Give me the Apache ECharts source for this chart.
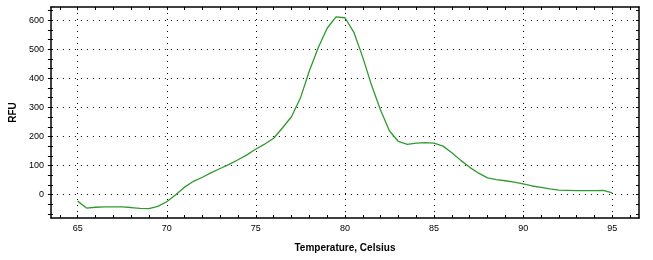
<!DOCTYPE html>
<html>
<head>
<meta charset="utf-8">
<script src="https://cdn.jsdelivr.net/npm/echarts@6/dist/echarts.min.js"></script>
<style>
html,body{margin:0;padding:0;background:#fff;}
#chart{width:653px;height:260px;}
</style>
</head>
<body>
<div id="chart"></div>
<script>
// Melt curve data (temperature in Celsius, RFU)
var temperatures = [65, 65.5, 66, 66.5, 67, 67.5, 68, 68.5, 69, 69.5, 70, 70.5, 71, 71.5, 72, 72.5, 73, 73.5, 74, 74.5, 75, 75.5, 76, 76.5, 77, 77.5, 78, 78.5, 79, 79.5, 80, 80.5, 81, 81.5, 82, 82.5, 83, 83.5, 84, 84.5, 85, 85.5, 86, 86.5, 87, 87.5, 88, 88.5, 89, 89.5, 90, 90.5, 91, 91.5, 92, 92.5, 93, 93.5, 94, 94.5, 95];
var rfu = [-22, -46, -43, -42, -42, -42, -44, -47, -48, -40, -24, 0, 26, 46, 60, 76, 90, 104, 120, 137, 157, 174, 194, 230, 268, 332, 425, 505, 572, 611, 608, 558, 472, 375, 290, 219, 183, 173, 177, 179, 177, 167, 144, 118, 94, 74, 58, 52, 48, 43, 37, 30, 25, 20, 16, 15, 14, 14, 14, 15, 6];

var xTickLabels = [65, 70, 75, 80, 85, 90, 95];
var yTickLabels = [0, 100, 200, 300, 400, 500, 600];
var xName = 'Temperature, Celsius';
var yName = 'RFU';

var X_MIN = 63.5, X_MAX = 96.5, Y_MIN = -80, Y_MAX = 645;

var xMinor = [];
for (var i = 64; i <= 96; i++) xMinor.push(i);
var yMinor = [];
for (var k = -2; k <= 19; k++) yMinor.push(Math.round(k * 100 / 3 * 1000) / 1000);

var data = temperatures.map(function (t, i) { return [t, rfu[i]]; });

var FONT = '"Liberation Sans", Arial, sans-serif';
var lineStyleAxis = { color: '#000', width: 1.5 };

function baseX(extra) {
  return Object.assign({
    type: 'value', min: X_MIN, max: X_MAX,
    axisLine: { show: false, onZero: false, lineStyle: lineStyleAxis },
    axisTick: { show: false },
    axisLabel: { show: false },
    splitLine: { show: false }
  }, extra);
}
function baseY(extra) {
  return Object.assign({
    type: 'value', min: Y_MIN, max: Y_MAX,
    axisLine: { show: false, onZero: false, lineStyle: lineStyleAxis },
    axisTick: { show: false },
    axisLabel: { show: false },
    splitLine: { show: false }
  }, extra);
}

var chart = echarts.init(document.getElementById('chart'), null, { renderer: 'canvas' });
chart.setOption({
  animation: false,
  backgroundColor: '#fff',
  grid: { left: 50, right: 14, top: 7, bottom: 42, containLabel: false },
  xAxis: [
    baseX({
      position: 'bottom',
      name: xName, nameLocation: 'middle', nameGap: 25,
      nameTextStyle: { fontFamily: FONT, fontSize: 10, fontWeight: 'bold', color: '#000' },
      axisLine: { show: true, onZero: false, lineStyle: lineStyleAxis },
      axisTick: { show: true, inside: true, length: 3, customValues: xMinor, lineStyle: { color: '#000', width: 1 } },
      axisLabel: { show: true, customValues: xTickLabels, margin: 6, fontFamily: FONT, fontSize: 9, color: '#000' }
    }),
    baseX({
      position: 'top',
      axisLine: { show: true, onZero: false, lineStyle: lineStyleAxis },
      axisTick: { show: true, inside: true, length: 3, customValues: xMinor, lineStyle: { color: '#000', width: 1 } }
    }),
    baseX({
      position: 'bottom',
      axisTick: { show: false, customValues: xTickLabels },
      splitLine: { show: true, lineStyle: { color: '#000', width: 1, type: [1, 5] } }
    })
  ],
  yAxis: [
    baseY({
      position: 'left',
      name: yName, nameLocation: 'middle', nameGap: 31, nameRotate: 90,
      nameTextStyle: { fontFamily: FONT, fontSize: 10, fontWeight: 'bold', color: '#000' },
      axisLine: { show: true, onZero: false, lineStyle: lineStyleAxis },
      axisTick: { show: true, inside: false, length: 3, customValues: yMinor, lineStyle: { color: '#000', width: 1 } },
      axisLabel: { show: true, customValues: yTickLabels, margin: 7, fontFamily: FONT, fontSize: 9, color: '#000' }
    }),
    baseY({
      position: 'left',
      axisTick: { show: true, inside: true, length: 2, customValues: yMinor, lineStyle: { color: '#000', width: 1 } }
    }),
    baseY({
      position: 'right',
      axisLine: { show: true, onZero: false, lineStyle: lineStyleAxis },
      axisTick: { show: true, inside: true, length: 3, customValues: yMinor, lineStyle: { color: '#000', width: 1 } }
    }),
    baseY({
      position: 'left',
      axisTick: { show: false, customValues: yTickLabels },
      splitLine: { show: true, lineStyle: { color: '#000', width: 1, type: [1, 5] } }
    })
  ],
  series: [{
    type: 'line',
    xAxisIndex: 0, yAxisIndex: 0,
    data: data,
    showSymbol: false,
    symbol: 'none',
    smooth: false,
    lineStyle: { color: '#2f9a2f', width: 1.3 },
    z: 5
  }]
});
</script>
</body>
</html>
